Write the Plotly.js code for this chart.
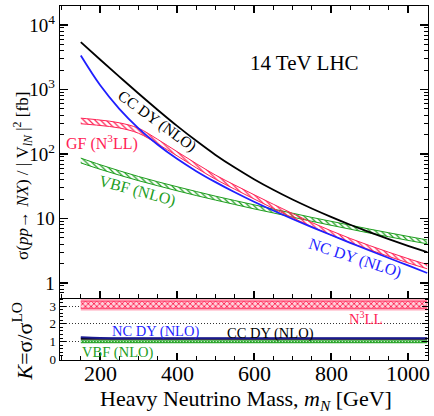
<!DOCTYPE html>
<html>
<head>
<meta charset="utf-8">
<script src="https://cdn.plot.ly/plotly-3.0.1.min.js"></script>
<style>
  html, body { margin: 0; padding: 0; background: #ffffff; }
  #chart { width: 434px; height: 416px; }
</style>
</head>
<body>
<div id="chart"></div>
<script>
// Heavy neutrino mass [GeV]
const mass = [150, 200, 250, 300, 350, 400, 450, 500, 550, 600, 650, 700, 750, 800, 850, 900, 950, 1000, 1050];

// sigma / |V_lN|^2 [fb]
const ccDY  = [5416, 2924, 1584, 867, 482, 273, 160, 96.8, 61.6, 40.7, 27.9, 19.7, 14.3, 10.6, 7.99, 6.14, 4.78, 3.77, 3.00];
const ncDY  = [3360, 1172, 502, 250, 139, 84.1, 54.2, 36.6, 25.5, 18.2, 13.3, 9.84, 7.35, 5.54, 4.20, 3.19, 2.44, 1.87, 1.43];
const gfLo  = [294.4, 277, 253.5, 209.9, 142.9, 93.8, 61.1, 40.6, 28.4, 20.1, 14.33, 10.29, 7.46, 5.55, 4.22, 3.28, 2.58, 2.05, 1.66];
const gfHi  = [359.5, 336, 305, 250.8, 168.3, 108.9, 71.0, 47.1, 33.0, 23.4, 16.65, 11.95, 8.67, 6.45, 4.90, 3.81, 3.00, 2.39, 1.93];
const vbfLo = [72.8, 58.0, 47.0, 38.6, 32.2, 26.9, 22.7, 19.3, 16.5, 14.1, 12.2, 10.5, 9.05, 7.85, 6.83, 5.94, 5.21, 4.58, 4.05];
const vbfHi = [86.4, 68.3, 55.0, 44.8, 37.1, 31.1, 26.2, 22.2, 19.0, 16.3, 14.0, 12.1, 10.4, 9.05, 7.88, 6.85, 6.01, 5.28, 4.66];

// K-factors
const kNC      = [1.24, 1.20, 1.19, 1.19, 1.19, 1.19, 1.19, 1.19, 1.19, 1.19, 1.19, 1.19, 1.19, 1.19, 1.19, 1.19, 1.19, 1.19, 1.19];
const kCC      = [1.16, 1.16, 1.16, 1.16, 1.16, 1.16, 1.16, 1.16, 1.16, 1.16, 1.16, 1.16, 1.16, 1.16, 1.16, 1.16, 1.16, 1.16, 1.16];
const kVbfLo   = [0.90, 0.90, 0.90, 0.90, 0.90, 0.90, 0.90, 0.90, 0.90, 0.90, 0.90, 0.90, 0.90, 0.90, 0.90, 0.90, 0.90, 0.90, 0.90];
const kVbfMid  = [1.00, 1.00, 1.00, 1.00, 1.00, 1.00, 1.00, 1.00, 1.00, 1.00, 1.00, 1.00, 1.00, 1.00, 1.00, 1.00, 1.00, 1.00, 1.00];
const kVbfHi   = [1.08, 1.08, 1.08, 1.08, 1.08, 1.08, 1.08, 1.08, 1.08, 1.08, 1.08, 1.08, 1.08, 1.08, 1.08, 1.08, 1.08, 1.08, 1.08];
const kGfOutLo = [2.76, 2.76, 2.76, 2.76, 2.76, 2.76, 2.76, 2.76, 2.76, 2.76, 2.76, 2.76, 2.76, 2.76, 2.76, 2.76, 2.76, 2.76, 2.76];
const kGfOutHi = [3.40, 3.40, 3.40, 3.40, 3.40, 3.40, 3.40, 3.40, 3.40, 3.40, 3.40, 3.40, 3.40, 3.40, 3.40, 3.40, 3.40, 3.40, 3.40];
const kGfInLo  = [2.88, 2.88, 2.88, 2.88, 2.88, 2.88, 2.88, 2.88, 2.88, 2.88, 2.88, 2.88, 2.88, 2.88, 2.88, 2.88, 2.88, 2.88, 2.88];
const kGfInHi  = [3.28, 3.28, 3.28, 3.28, 3.28, 3.28, 3.28, 3.28, 3.28, 3.28, 3.28, 3.28, 3.28, 3.28, 3.28, 3.28, 3.28, 3.28, 3.28];

// tick labels
const xTickVals = [200, 400, 600, 800, 1000];
const xTickText = ['200', '400', '600', '800', '1000'];
const yTickVals = [1, 10, 100, 1000, 10000];
const yTickText = ['1', '10', '10<sup>2</sup>', '10<sup>3</sup>', '10<sup>4</sup>'];
const kTickVals = [0, 1, 2, 3];
const kTickText = ['0', '1', '2', '3'];

const RED = '#ff2255', GREEN = '#1e9e1e', BLUE = '#1f1fff', BLACK = '#000000';
const FONT = "'Liberation Serif', 'Times New Roman', Times, 'DejaVu Serif', serif";

const yMinor = [];
[0.1, 1, 10, 100, 1000].forEach(d => { for (let k = 2; k <= 9; k++) yMinor.push(k * d); });

const traces = [
  {x: mass, y: vbfLo, xaxis: 'x', yaxis: 'y', mode: 'lines', line: {color: GREEN, width: 1, shape: 'spline'}},
  {x: mass, y: vbfHi, xaxis: 'x', yaxis: 'y', mode: 'lines', line: {color: GREEN, width: 1, shape: 'spline'},
   fill: 'tonexty', fillcolor: 'rgba(0,0,0,0)',
   fillpattern: {shape: '\\', fgcolor: GREEN, bgcolor: 'rgba(255,255,255,0)', size: 4, solidity: 0.3}},
  {x: mass, y: gfLo, xaxis: 'x', yaxis: 'y', mode: 'lines', line: {color: RED, width: 1, shape: 'spline'}},
  {x: mass, y: gfHi, xaxis: 'x', yaxis: 'y', mode: 'lines', line: {color: RED, width: 1, shape: 'spline'},
   fill: 'tonexty', fillcolor: 'rgba(0,0,0,0)',
   fillpattern: {shape: '\\', fgcolor: RED, bgcolor: 'rgba(255,255,255,0)', size: 4, solidity: 0.3}},
  {x: mass, y: ncDY, xaxis: 'x', yaxis: 'y', mode: 'lines', line: {color: BLUE, width: 1.8, shape: 'spline'}},
  {x: mass, y: ccDY, xaxis: 'x', yaxis: 'y', mode: 'lines', line: {color: BLACK, width: 1.8, shape: 'spline'}},

  {x: mass, y: kGfOutLo, xaxis: 'x2', yaxis: 'y2', mode: 'lines', line: {width: 0, color: 'rgba(0,0,0,0)'}},
  {x: mass, y: kGfOutHi, xaxis: 'x2', yaxis: 'y2', mode: 'lines', line: {width: 0, color: 'rgba(0,0,0,0)'},
   fill: 'tonexty', fillcolor: 'rgba(255,140,165,0.75)'},
  {x: mass, y: kGfInLo, xaxis: 'x2', yaxis: 'y2', mode: 'lines', line: {width: 0.8, color: RED}},
  {x: mass, y: kGfInHi, xaxis: 'x2', yaxis: 'y2', mode: 'lines', line: {width: 0.8, color: RED},
   fill: 'tonexty', fillcolor: 'rgba(0,0,0,0)',
   fillpattern: {shape: 'x', fgcolor: '#ff1a4a', bgcolor: '#ffd0da', size: 4, solidity: 0.4}},
  {x: mass, y: kVbfLo, xaxis: 'x2', yaxis: 'y2', mode: 'lines', line: {width: 0, color: GREEN}},
  {x: mass, y: kVbfHi, xaxis: 'x2', yaxis: 'y2', mode: 'lines', line: {width: 0, color: GREEN},
   fill: 'tonexty', fillcolor: '#2aa52a'},
  {x: mass, y: kVbfMid, xaxis: 'x2', yaxis: 'y2', mode: 'lines', line: {width: 1, color: '#ffffff', dash: '1px,2px'}},
  {x: mass, y: kCC, xaxis: 'x2', yaxis: 'y2', mode: 'lines', line: {width: 2, color: BLACK, shape: 'spline'}},
  {x: mass, y: kNC, xaxis: 'x2', yaxis: 'y2', mode: 'lines', line: {width: 2, color: '#1a1a90', shape: 'spline'}}
];

const axisCommon = {
  showline: true, linecolor: '#000', linewidth: 1.4, ticks: 'inside', tickcolor: '#000',
  showgrid: false, zeroline: false
};

const ann = (text, x, y, size, color, angle) => ({
  text: text, x: x, y: y, xref: 'paper', yref: 'paper', showarrow: false,
  xanchor: 'center', yanchor: 'middle', textangle: angle || 0,
  font: {family: FONT, size: size, color: color}
});

// x tick labels placed under the lower panel at the axis' own values
const xTickAnn = xTickVals.map((v, i) => ({
  text: xTickText[i], x: v, xref: 'x2', y: -0.037, yref: 'paper', showarrow: false,
  xanchor: 'center', yanchor: 'middle', font: {family: FONT, size: 22, color: '#000'}
}));

const layout = {
  width: 434, height: 416,
  margin: {l: 60, r: 6, t: 6, b: 56, pad: 0},
  paper_bgcolor: '#ffffff', plot_bgcolor: '#ffffff',
  showlegend: false,
  font: {family: FONT, color: '#000'},
  xaxis: Object.assign({}, axisCommon, {
    domain: [0, 1], anchor: 'y', range: [96, 1052],
    tickvals: xTickVals, ticktext: xTickText, showticklabels: false,
    ticklen: 7, tickwidth: 1.3, mirror: 'allticks',
    minor: {dtick: 50, tick0: 0, ticks: 'inside', ticklen: 4, tickwidth: 1, tickcolor: '#000', showgrid: false}
  }),
  xaxis2: Object.assign({}, axisCommon, {
    domain: [0, 1], anchor: 'y2', range: [96, 1052], matches: 'x',
    tickvals: xTickVals, ticktext: xTickText, showticklabels: false,
    ticklen: 7, tickwidth: 1.3, mirror: false,
    minor: {dtick: 50, tick0: 0, ticks: 'inside', ticklen: 4, tickwidth: 1, tickcolor: '#000', showgrid: false}
  }),
  yaxis: Object.assign({}, axisCommon, {
    domain: [0.1751, 1], anchor: 'x', type: 'log', range: [-0.233, 4.295],
    tickvals: yTickVals, ticktext: yTickText,
    tickfont: {family: FONT, size: 19, color: '#000'},
    ticklen: 8, tickwidth: 1.3, mirror: 'allticks',
    minor: {tickvals: yMinor, ticks: 'inside', ticklen: 4, tickwidth: 1, tickcolor: '#000', showgrid: false}
  }),
  yaxis2: Object.assign({}, axisCommon, {
    domain: [0, 0.1751], anchor: 'x2', range: [-0.04, 3.46],
    tickvals: kTickVals, ticktext: kTickText,
    tickfont: {family: FONT, size: 13, color: '#000'},
    ticklen: 6, tickwidth: 1.2, mirror: 'allticks',
    showgrid: true, gridcolor: '#000', gridwidth: 0.8, griddash: '1px,2px',
    minor: {dtick: 0.2, ticks: 'inside', ticklen: 3, tickwidth: 1, tickcolor: '#000', showgrid: false}
  }),
  annotations: [
    ann('14 TeV LHC', 0.6644, 0.8381, 21, '#000'),
    ann('CC DY (NLO)', 0.2636, 0.6751, 15.5, '#000', 36),
    ann('GF (N<sup>3</sup>LL)', 0.1141, 0.6144, 16, RED),
    ann('VBF (NLO)', 0.2106, 0.478, 16, GREEN, 15),
    ann('NC DY (NLO)', 0.8003, 0.2873, 16, BLUE, 18),
    ann('NC DY (NLO)', 0.2582, 0.0791, 14.5, BLUE),
    ann('CC DY (NLO)', 0.5715, 0.0754, 14.5, '#000'),
    ann('VBF (NLO)', 0.1562, 0.0212, 14.5, GREEN),
    ann('N<sup>3</sup>LL', 0.831, 0.1178, 14.5, RED),
    ann('Heavy Neutrino Mass, <i>m<sub>N</sub></i> [GeV]', 0.5054, -0.1144, 22, '#000'),
    ann('σ(<i>pp</i>→ <i>NX</i>) / | V<sub><i>lN</i></sub> |<sup>2</sup> [fb]', -0.1005, 0.52, 17, '#000', -90),
    ann('<i>K</i>=σ/σ<sup>LO</sup>', -0.1019, 0.0508, 22, '#000', -90)
  ].concat(xTickAnn)
};

Plotly.newPlot('chart', traces, layout, {staticPlot: true, displayModeBar: false});
</script>
</body>
</html>
